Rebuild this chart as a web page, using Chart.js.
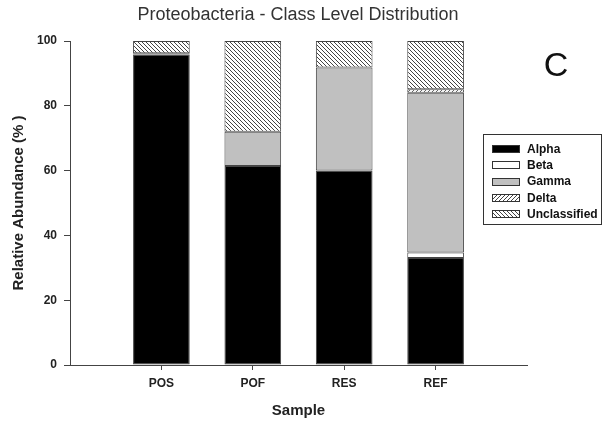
<!DOCTYPE html>
<html>
<head>
<meta charset="utf-8">
<title>Proteobacteria - Class Level Distribution</title>
<script src="https://cdn.jsdelivr.net/npm/chart.js@4.4.1/dist/chart.umd.min.js"></script>
<style>
  html, body { margin: 0; padding: 0; background: #fff; }
  #wrap { width: 616px; height: 423px; }
</style>
</head>
<body>
<div id="wrap"><canvas id="classChart"></canvas></div>
<script>
// ----------------------------------------
// Data (relative abundance, %)
// ----------------------------------------
const samples = ['POS', 'POF', 'RES', 'REF'];
const classNames = ['Alpha', 'Beta', 'Gamma', 'Delta', 'Unclassified'];
const alpha = [95.8, 61.4, 60.0, 33.0];
const beta = [0, 0, 0, 1.7];
const gamma = [0.4, 10.6, 31.8, 49.3];
const delta = [0, 0, 0, 1.1];
const unclassified = [3.8, 28.0, 8.2, 14.9];
const yTicks = [0, 20, 40, 60, 80, 100];

const FONT = "'Liberation Sans', Arial, sans-serif";

// ----------------------------------------
// Hatch fills
// ----------------------------------------
function hatch(dir) {
  const tile = document.createElement('canvas');
  tile.width = 4;
  tile.height = 4;
  const t = tile.getContext('2d');
  t.fillStyle = '#fff';
  t.fillRect(0, 0, 4, 4);
  t.fillStyle = '#444';
  for (let i = 0; i < 4; i++) {
    const x = dir === 'back' ? i : 3 - i;
    t.fillRect(x, i, 1, 1);
  }
  return document.createElement('canvas').getContext('2d').createPattern(tile, 'repeat');
}

const fills = ['#000000', '#ffffff', '#c0c0c0', hatch('fwd'), hatch('back')];
const series = [alpha, beta, gamma, delta, unclassified];

const toPoints = (arr) => arr.map((v, i) => ({ x: i + 1, y: v }));

// ----------------------------------------
// Title, boxed legend and panel letter
// ----------------------------------------
const decorations = {
  id: 'decorations',
  afterDraw(chart) {
    const ctx = chart.ctx;
    ctx.save();

    ctx.font = '18px ' + FONT;
    ctx.textAlign = 'center';
    ctx.textBaseline = 'middle';
    ctx.fillStyle = '#333';
    ctx.fillText('Proteobacteria - Class Level Distribution', 298, 15);

    ctx.strokeStyle = '#333';
    ctx.lineWidth = 1;
    ctx.strokeRect(483.5, 134.5, 118, 90);

    ctx.font = 'bold 12px ' + FONT;
    ctx.textAlign = 'left';
    chart.data.datasets.forEach((ds, i) => {
      const y = 145 + i * 16.3;
      ctx.fillStyle = ds.backgroundColor;
      ctx.fillRect(492, Math.round(y), 28, 8);
      ctx.strokeStyle = '#333';
      ctx.strokeRect(492.5, Math.round(y) + 0.5, 27, 7);
      ctx.fillStyle = '#111';
      ctx.fillText(ds.label, 527, y + 4.5);
    });

    ctx.font = '34px ' + FONT;
    ctx.textAlign = 'center';
    ctx.fillStyle = '#111';
    ctx.fillText('C', 556, 67);
    ctx.restore();
  }
};

// ----------------------------------------
// Stacked bar chart
// ----------------------------------------
new Chart(document.getElementById('classChart'), {
  type: 'bar',
  data: {
    datasets: classNames.map((name, i) => ({
      label: name,
      data: toPoints(series[i]),
      backgroundColor: fills[i],
      borderColor: '#444',
      borderWidth: 1,
      borderSkipped: false,
      categoryPercentage: 0.62,
      barPercentage: 1.0
    }))
  },
  options: {
    responsive: true,
    maintainAspectRatio: false,
    animation: false,
    layout: { padding: { left: 4, right: 89, top: 41, bottom: 0 } },
    plugins: {
      legend: { display: false },
      tooltip: { enabled: false },
      title: { display: false }
    },
    scales: {
      x: {
        type: 'linear',
        stacked: true,
        offset: false,
        min: 0,
        max: 5,
        afterFit(scale) { scale.height = 58; },
        grid: {
          offset: false,
          drawOnChartArea: false,
          tickLength: 5,
          tickColor: (c) => (c.tick && c.tick.value >= 1 && c.tick.value <= samples.length) ? '#444' : 'rgba(0,0,0,0)'
        },
        border: { color: '#444', width: 1 },
        ticks: {
          stepSize: 1,
          padding: 6,
          color: '#222',
          font: { family: FONT, size: 12, weight: 'bold' },
          callback: (v) => samples[v - 1] || ''
        },
        title: {
          display: true,
          text: 'Sample',
          color: '#222',
          font: { family: FONT, size: 15, weight: 'bold' },
          padding: { top: 4, bottom: 3 }
        }
      },
      y: {
        stacked: true,
        min: 0,
        max: 100,
        afterFit(scale) { scale.width = 66; },
        afterBuildTicks(scale) { scale.ticks = yTicks.map(v => ({ value: v })); },
        grid: { drawOnChartArea: false, tickLength: 6, tickColor: '#444' },
        border: { color: '#444', width: 1 },
        ticks: {
          padding: 7,
          color: '#222',
          font: { family: FONT, size: 12, weight: 'bold' }
        },
        title: {
          display: true,
          text: 'Relative Abundance (% )',
          color: '#222',
          font: { family: FONT, size: 15, weight: 'bold' },
          padding: { top: 6, bottom: 4 }
        }
      }
    }
  },
  plugins: [decorations]
});
</script>
</body>
</html>
